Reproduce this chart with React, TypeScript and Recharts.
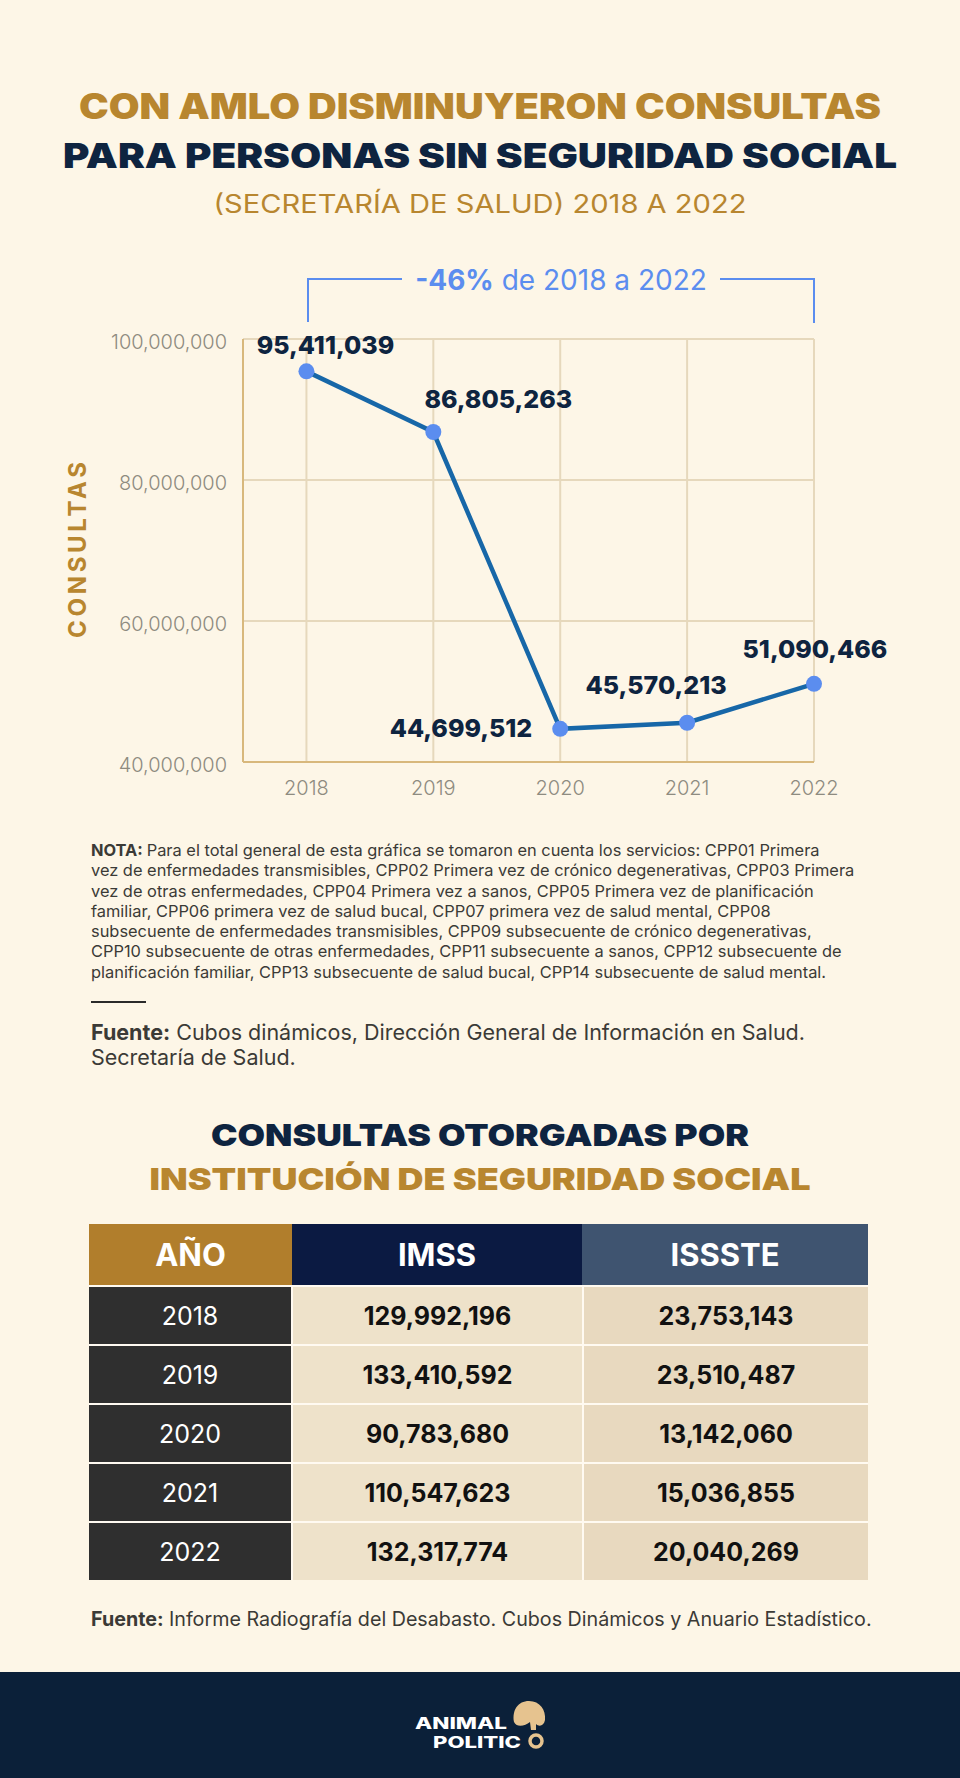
import React from 'react';
import { LineChart, Line, XAxis, YAxis, CartesianGrid, LabelList } from 'recharts';

// consultas para personas sin seguridad social (Secretaría de Salud)
const years = [2018, 2019, 2020, 2021, 2022];
const consultas = [95411039, 86805263, 44699512, 45570213, 51090466];
const yTicks = [40000000, 60000000, 80000000, 100000000];

// tabla por institución
const tableHeaders = ['AÑO', 'IMSS', 'ISSSTE'];
const imss = [129992196, 133410592, 90783680, 110547623, 132317774];
const issste = [23753143, 23510487, 13142060, 15036855, 20040269];

const notaLines = [
    'Para el total general de esta gráfica se tomaron en cuenta los servicios: CPP01 Primera',
    'vez de enfermedades transmisibles, CPP02 Primera vez de crónico degenerativas, CPP03 Primera',
    'vez de otras enfermedades, CPP04 Primera vez a sanos, CPP05 Primera vez de planificación',
    'familiar, CPP06 primera vez de salud bucal, CPP07 primera vez de salud mental, CPP08',
    'subsecuente de enfermedades transmisibles, CPP09 subsecuente de crónico degenerativas,',
    'CPP10 subsecuente de otras enfermedades, CPP11 subsecuente a sanos, CPP12 subsecuente de',
    'planificación familiar, CPP13 subsecuente de salud bucal, CPP14 subsecuente de salud mental.',
];

const BG = '#FDF6E7';
const GOLD = '#B8862F';
const NAVY = '#0E2440';
const GRID = '#E6D8BC';
const AXIS = '#D8B87C';
const LINE = '#1767A8';
const DOT = '#5B8DEF';

// label placement around each point (px)
const labelOffsets = [
    { dx: 19, dy: -17, anchor: 'middle' },
    { dx: 65, dy: -24, anchor: 'middle' },
    { dx: -28, dy: 8, anchor: 'end' },
    { dx: -31, dy: -29, anchor: 'middle' },
    { dx: 1, dy: -26, anchor: 'middle' },
];

const data = years.map((year, i) => ({ year, consultas: consultas[i] }));
const fmt = (v: number) => v.toLocaleString('en-US');

const ValueLabel = (props: any) => {
    const { x, y, value, index } = props;
    const o = labelOffsets[index];
    return (
        <text x={x + o.dx} y={y + o.dy} textAnchor={o.anchor} fill={NAVY} fontFamily="Inter" fontWeight={800} fontSize={25}>
            {fmt(value)}
        </text>
    );
};

const cellBase: React.CSSProperties = {
    display: 'flex',
    alignItems: 'center',
    justifyContent: 'center',
};

export default function App() {
    return (
        <div style={{ position: 'absolute', left: 0, top: 0, width: 960, height: 1778, background: BG, overflow: 'hidden', fontFamily: 'Inter' }}>
            {/* line chart */}
            <div style={{ position: 'absolute', left: 0, top: 0 }}>
                <LineChart width={960} height={820} data={data} margin={{ top: 339, right: 146, bottom: 0, left: 0 }}>
                    <CartesianGrid stroke={GRID} strokeWidth={2} />
                    <XAxis
                        dataKey="year"
                        type="number"
                        domain={[2017.5, 2022]}
                        ticks={years}
                        height={58}
                        tickSize={0}
                        tickMargin={19}
                        axisLine={{ stroke: AXIS, strokeWidth: 2 }}
                        tick={{ fill: '#8E8B80', fontSize: 20, fontFamily: 'Inter', fontWeight: 300 }}
                    />
                    <YAxis
                        domain={[40000000, 100000000]}
                        ticks={yTicks}
                        width={243}
                        tickSize={0}
                        tickMargin={16}
                        axisLine={{ stroke: AXIS, strokeWidth: 2 }}
                        tickFormatter={fmt}
                        tick={{ fill: '#8E8B80', fontSize: 20, fontFamily: 'Inter', fontWeight: 300, dy: 3 }}
                    />
                    <Line
                        dataKey="consultas"
                        stroke={LINE}
                        strokeWidth={4.5}
                        dot={{ r: 8, fill: DOT, stroke: 'none' }}
                        isAnimationActive={false}
                    >
                        <LabelList dataKey="consultas" content={ValueLabel} />
                    </Line>
                </LineChart>
            </div>

            {/* headings, axis title and bracket */}
            <svg width={960} height={1778} style={{ position: 'absolute', left: 0, top: 0, pointerEvents: 'none' }}>
                <text x={480} y={119} textAnchor="middle" fill={GOLD} fontFamily="Inter" fontWeight={900} fontSize={35} textLength={802} lengthAdjust="spacingAndGlyphs">
                    CON AMLO DISMINUYERON CONSULTAS
                </text>
                <text x={480} y={168} textAnchor="middle" fill={NAVY} fontFamily="Inter" fontWeight={900} fontSize={34} textLength={834} lengthAdjust="spacingAndGlyphs">
                    PARA PERSONAS SIN SEGURIDAD SOCIAL
                </text>
                <text x={480} y={213} textAnchor="middle" fill={GOLD} fontFamily="Inter" fontWeight={400} fontSize={25} textLength={533} lengthAdjust="spacingAndGlyphs">
                    (SECRETARÍA DE SALUD) 2018 A 2022
                </text>

                <text transform="translate(86,550) rotate(-90)" textAnchor="middle" fill={GOLD} fontFamily="Inter" fontWeight={700} fontSize={24} textLength={176} lengthAdjust="spacing">
                    CONSULTAS
                </text>

                <path d="M308 322 V279 H402 M720 279 H814 V323" fill="none" stroke={DOT} strokeWidth={2} />
                <text x={561} y={290} textAnchor="middle" fill={DOT} fontFamily="Inter" fontSize={28}>
                    <tspan fontWeight={700}>-46%</tspan>
                    <tspan fontWeight={400}> de 2018 a 2022</tspan>
                </text>

                <text x={480} y={1146} textAnchor="middle" fill={NAVY} fontFamily="Inter" fontWeight={900} fontSize={30} textLength={538} lengthAdjust="spacingAndGlyphs">
                    CONSULTAS OTORGADAS POR
                </text>
                <text x={480} y={1190} textAnchor="middle" fill={GOLD} fontFamily="Inter" fontWeight={900} fontSize={30} textLength={661} lengthAdjust="spacingAndGlyphs">
                    INSTITUCIÓN DE SEGURIDAD SOCIAL
                </text>
            </svg>

            {/* nota */}
            <div style={{ position: 'absolute', left: 91, top: 840, fontSize: 16.4, lineHeight: '20.3px', color: '#3B3A36', whiteSpace: 'nowrap' }}>
                {notaLines.map((line, i) => (
                    <div key={i}>
                        {i === 0 && <b>NOTA: </b>}
                        {line}
                    </div>
                ))}
            </div>
            <div style={{ position: 'absolute', left: 91, top: 1001, width: 55, height: 2, background: '#2A2A2A' }} />
            <div style={{ position: 'absolute', left: 91, top: 1020, fontSize: 21.5, lineHeight: '25px', color: '#3B3A36', whiteSpace: 'nowrap' }}>
                <div><b>Fuente:</b> Cubos dinámicos, Dirección General de Información en Salud.</div>
                <div>Secretaría de Salud.</div>
            </div>

            {/* tabla */}
            <div style={{ position: 'absolute', left: 89, top: 1224, width: 779 }}>
                <div style={{ display: 'grid', gridTemplateColumns: '203px 290px 286px', height: 61 }}>
                    {tableHeaders.map((h, i) => (
                        <div
                            key={h}
                            style={{
                                ...cellBase,
                                background: ['#B17E2C', '#0B1A42', '#3F5470'][i],
                                color: '#FFFFFF',
                                fontWeight: 700,
                                fontSize: 31,
                            }}
                        >
                            {h}
                        </div>
                    ))}
                </div>
                <div style={{ display: 'grid', gridTemplateColumns: '202px 289px 284px', gridAutoRows: '57px', gap: 2, background: '#FFFAF1', paddingTop: 2 }}>
                    {years.map((y, i) => (
                        <React.Fragment key={y}>
                            <div style={{ ...cellBase, background: '#2F2F2F', color: '#FFFFFF', fontSize: 25 }}>{y}</div>
                            <div style={{ ...cellBase, background: '#EEE2CA', color: '#111', fontWeight: 700, fontSize: 25 }}>{fmt(imss[i])}</div>
                            <div style={{ ...cellBase, background: '#E8D9BF', color: '#111', fontWeight: 700, fontSize: 25 }}>{fmt(issste[i])}</div>
                        </React.Fragment>
                    ))}
                </div>
            </div>

            <div style={{ position: 'absolute', left: 91, top: 1607, fontSize: 19.7, lineHeight: '25px', color: '#3B3A36', whiteSpace: 'nowrap' }}>
                <b>Fuente:</b> Informe Radiografía del Desabasto. Cubos Dinámicos y Anuario Estadístico.
            </div>

            {/* footer */}
            <div style={{ position: 'absolute', left: 0, top: 1672, width: 960, height: 106, background: '#0B2039' }}>
                <svg width={960} height={106}>
                    <text x={415} y={57} fill="#FFFFFF" fontFamily="Inter" fontWeight={800} fontSize={15.5} textLength={92} lengthAdjust="spacingAndGlyphs">
                        ANIMAL
                    </text>
                    <text x={433} y={76} fill="#FFFFFF" fontFamily="Inter" fontWeight={800} fontSize={15.5} textLength={88} lengthAdjust="spacingAndGlyphs">
                        POLITIC
                    </text>
                    <path d="M514 50 C512 38 518 29 529 29 C540 29 546 38 545 48 C544 54 539 55 536 52 L536 58 L531 58 L530 50 C525 54 517 56 514 50 Z" fill="#E6C38F" />
                    <circle cx={536} cy={69} r={6} fill="none" stroke="#E6C38F" strokeWidth={3.5} />
                </svg>
            </div>
        </div>
    );
}
